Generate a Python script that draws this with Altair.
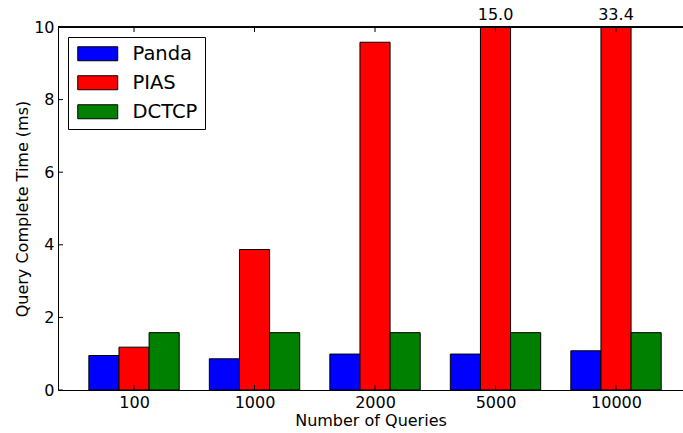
import altair as alt
import pandas as pd

# Query completion time per scheme, for each query count
queries = ["100", "1000", "2000", "5000", "10000"]
schemes = ["Panda", "PIAS", "DCTCP"]
panda = [0.95, 0.86, 0.99, 0.99, 1.08]
pias = [1.18, 3.87, 9.58, 15.0, 33.4]
dctcp = [1.58, 1.58, 1.58, 1.58, 1.58]
colors = ["#0000ff", "#ff0000", "#008000"]
y_ticks = [0, 2, 4, 6, 8, 10]
y_max = 10

rows = []
for s_i, (name, vals) in enumerate(zip(schemes, [panda, pias, dctcp])):
    for q_i, v in enumerate(vals):
        rows.append({"scheme": name, "slot": s_i, "group": q_i, "value": v})
df = pd.DataFrame(rows)

W, H = 625, 363
FONT = "DejaVu Sans"
FS = 16
xscale = alt.Scale(domain=[-0.631, 4.556], nice=False, zero=False)
yscale = alt.Scale(domain=[0, y_max], nice=False)

label_array = "[" + ",".join("'%s'" % q for q in queries) + "]"

base = alt.Chart(df).transform_calculate(
    xc="datum.group + (datum.slot - 1) * 0.25",
    x0="datum.group + (datum.slot - 1) * 0.25 - 0.125",
    x1="datum.group + (datum.slot - 1) * 0.25 + 0.125",
    shown="min(datum.value, %d)" % y_max,
)

bars = base.mark_bar(stroke="black", strokeWidth=1).encode(
    x=alt.X(
        "x0:Q",
        scale=xscale,
        axis=alt.Axis(
            values=list(range(len(queries))),
            labelExpr=label_array + "[datum.value]",
            tickSize=0,
            labelPadding=4,
            labelFontSize=FS,
            labelColor="black",
            domainColor="black",
            grid=False,
            title="Number of Queries",
            titleFontSize=FS,
            titleFontWeight="normal",
            titleColor="black",
            titlePadding=2,
        ),
    ),
    x2="x1:Q",
    y=alt.Y(
        "shown:Q",
        scale=yscale,
        axis=alt.Axis(
            values=y_ticks,
            tickSize=0,
            labelPadding=4,
            labelFontSize=FS,
            labelColor="black",
            domainColor="black",
            grid=False,
            title="Query Complete Time (ms)",
            titleFontSize=FS,
            titleFontWeight="normal",
            titleColor="black",
            titlePadding=3,
        ),
    ),
    y2=alt.datum(0),
    color=alt.Color(
        "scheme:N",
        scale=alt.Scale(domain=schemes, range=colors),
        legend=alt.Legend(
            title=None,
            orient="top-left",
            offset=10,
            padding=7,
            strokeColor="black",
            fillColor="white",
            cornerRadius=0,
            symbolType="M-1,-1L4.714,-1L4.714,1L-1,1Z",
            symbolSize=196,
            symbolStrokeColor="black",
            symbolStrokeWidth=1,
            symbolOpacity=1,
            labelFontSize=19.5,
            labelColor="black",
            labelOffset=38,
            rowPadding=8,
        ),
    ),
)

# values beyond the axis limit are printed above the clipped bar
overflow = base.transform_filter("datum.value > %d" % y_max).mark_text(
    baseline="alphabetic", dy=-7, fontSize=FS, color="black"
).encode(
    x=alt.X("xc:Q", scale=xscale),
    y=alt.Y("shown:Q", scale=yscale),
    text=alt.Text("value:Q", format=".1f"),
)

# frame top line and inward-pointing ticks
tick_x = pd.DataFrame({"g": list(range(len(queries)))})
tick_y = pd.DataFrame({"t": y_ticks})
top_line = alt.Chart(tick_x).mark_rule(color="black", strokeWidth=1).encode(
    x=alt.value(0), x2=alt.value(W), y=alt.value(0)
)
top_ticks = alt.Chart(tick_x).mark_rule(color="black").encode(
    x=alt.X("g:Q", scale=xscale), y=alt.value(0), y2=alt.value(5)
)
bottom_ticks = alt.Chart(tick_x).mark_rule(color="black").encode(
    x=alt.X("g:Q", scale=xscale), y=alt.value(H), y2=alt.value(H - 5)
)
left_ticks = alt.Chart(tick_y).mark_rule(color="black").encode(
    y=alt.Y("t:Q", scale=yscale), x=alt.value(0), x2=alt.value(5)
)

chart = (
    alt.layer(bars, overflow, top_line, top_ticks, bottom_ticks, left_ticks)
    .properties(
        width=W,
        height=H,
        autosize=alt.AutoSizeParams(type="none"),
        padding={"left": 58, "top": 27, "right": 0, "bottom": 43},
    )
    .configure(font=FONT, background="white")
    .configure_view(stroke=None)
)

chart.save("out.html", embed_options={"renderer": "svg", "actions": False})
